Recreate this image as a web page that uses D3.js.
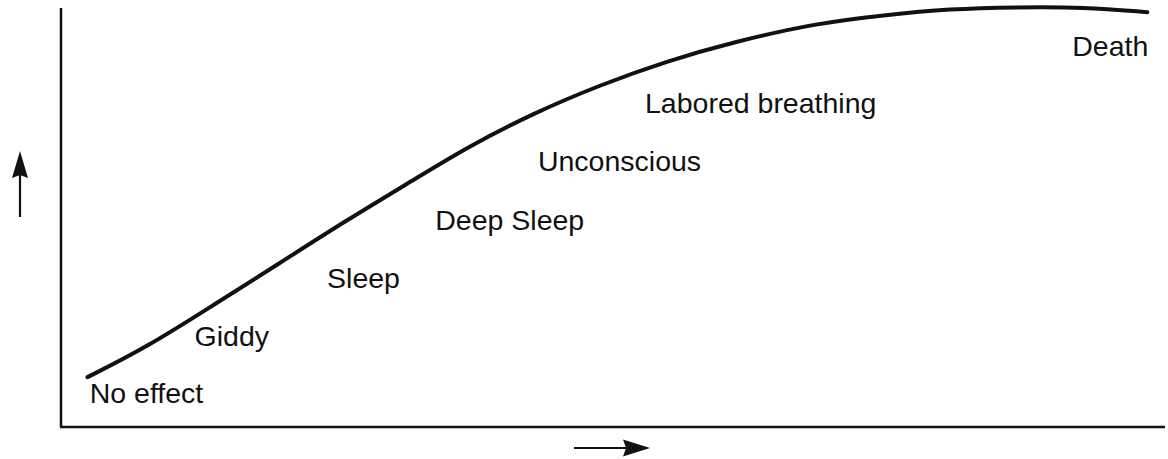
<!DOCTYPE html>
<html>
<head>
<meta charset="utf-8">
<script src="https://cdn.jsdelivr.net/npm/d3@7"></script>
<style>
  html, body { margin: 0; padding: 0; background: #fff; }
  svg { display: block; }
  text { font-family: "Liberation Sans", Arial, Helvetica, sans-serif; fill: #111; }
</style>
</head>
<body>
<svg id="chart" width="1168" height="459"></svg>
<script>
// Dose (x) versus depth of effect (y), both in relative units 0-100
const doseLevels = [2.4, 7.8, 13.8, 19.8, 25.9, 31.9, 36.8, 42.8, 48.8, 54.9, 60.9, 68.5, 74.5, 80.5, 86.6, 92.6, 98.4];
const effectLevels = [11.9, 19.1, 29.1, 39.1, 49.4, 58.9, 66.8, 74.9, 81.6, 87.35, 91.9, 96.4, 98.3, 99.8, 100.2, 100.2, 99.0];

// Stage labels with their anchor positions in the same units
const stageNames = ["No effect", "Giddy", "Sleep", "Deep Sleep", "Unconscious", "Labored breathing", "Death"];
const stageDose = [2.6, 12.1, 24.1, 33.9, 43.2, 52.9, 91.6];
const stageEffect = [5.7, 19.3, 33.2, 47.0, 61.1, 75.0, 88.5];

const svg = d3.select("#chart");
const x = d3.scaleLinear().domain([0, 100]).range([61, 1165]);
const y = d3.scaleLinear().domain([0, 100]).range([427, 8]);

// Axes: plain lines without ticks
svg.append("line")
  .attr("x1", x(0)).attr("x2", x(0))
  .attr("y1", y(100)).attr("y2", y(0))
  .attr("stroke", "#111").attr("stroke-width", 2.5);
svg.append("line")
  .attr("x1", x(0) - 1).attr("x2", x(100))
  .attr("y1", y(0)).attr("y2", y(0))
  .attr("stroke", "#111").attr("stroke-width", 2.5);

// Direction arrows for the axes
svg.append("line")
  .attr("x1", 574).attr("x2", 628)
  .attr("y1", 448).attr("y2", 448)
  .attr("stroke", "#111").attr("stroke-width", 2.2);
svg.append("path")
  .attr("d", "M650,448 L623,439.5 L626,448 L623,456.5 Z")
  .attr("fill", "#111");

svg.append("line")
  .attr("x1", 20).attr("x2", 20)
  .attr("y1", 217).attr("y2", 172)
  .attr("stroke", "#111").attr("stroke-width", 2.2);
svg.append("path")
  .attr("d", "M20,151 L12,178 L20,175 L28,178 Z")
  .attr("fill", "#111");

// Dose-response curve
const pts = doseLevels.map((d, i) => [d, effectLevels[i]]);
const line = d3.line()
  .x(d => x(d[0]))
  .y(d => y(d[1]))
  .curve(d3.curveBasis);
svg.append("path")
  .datum(pts)
  .attr("d", line)
  .attr("fill", "none")
  .attr("stroke", "#111")
  .attr("stroke-width", 4)
  .attr("stroke-linecap", "round");

// Stage labels
svg.selectAll("text.stage")
  .data(stageNames)
  .join("text")
  .attr("class", "stage")
  .attr("x", (d, i) => x(stageDose[i]))
  .attr("y", (d, i) => y(stageEffect[i]))
  .attr("font-size", 28.5)
  .text(d => d);
</script>
</body>
</html>
